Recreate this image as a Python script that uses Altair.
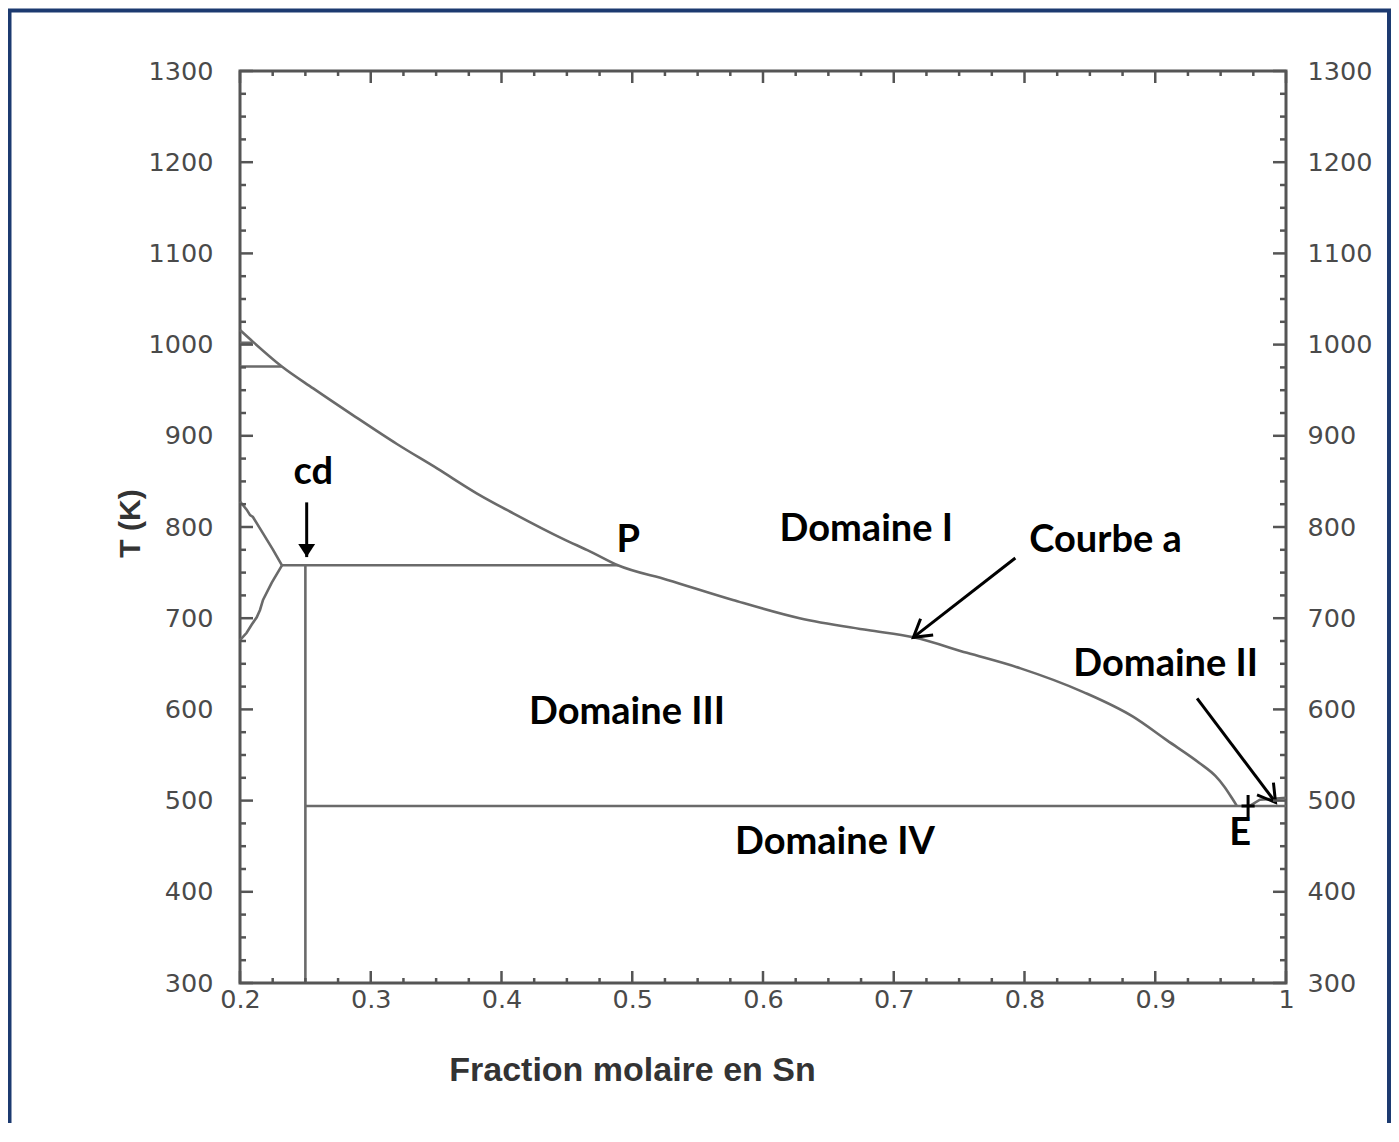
import math
import altair as alt
import pandas as pd

# ---------------- data ----------------
# Main liquidus ("Courbe a")
liq_x = [0.2, 0.210, 0.232, 0.256, 0.286, 0.320, 0.351, 0.381, 0.409, 0.447, 0.468,
         0.489, 0.527, 0.577, 0.628, 0.680, 0.715, 0.756, 0.797, 0.845, 0.883,
         0.909, 0.934, 0.946, 0.953, 0.959, 0.9625]
liq_T = [1016, 1003, 976, 952, 923, 891, 864, 837, 815, 787, 773,
         758, 742, 720, 700, 687, 679, 662, 645, 619, 592,
         566, 541, 527, 515, 502, 494]
# small wedge at the top left
wedge_x = [0.2, 0.2095]
wedge_T = [1002, 1002]
h975_x = [0.2, 0.232]
h975_T = [976, 976]
# left branches meeting at the congruent point
upl_x = [0.2, 0.2051, 0.2077, 0.2099, 0.2176, 0.2253, 0.2321]
upl_T = [828, 819, 813, 811, 793, 775, 758]
lol_x = [0.2321, 0.2243, 0.2176, 0.2153, 0.2128, 0.2090, 0.2051, 0.2]
lol_T = [758, 739, 720, 709, 701, 693, 684, 676]
# peritectic horizontal, compound vertical, eutectic horizontal, Sn side
per_x = [0.2321, 0.489]
per_T = [758, 758]
cd_x = [0.25, 0.25]
cd_T = [300, 758]
eut_x = [0.25, 1.0]
eut_T = [494, 494]
sn_x = [0.972, 0.98, 1.0]
sn_T = [494, 501, 503]

# eutectic marker
e_x = [0.971]
e_T = [494]

# annotation texts
lab_text = ["cd", "P", "Domaine I", "Courbe a", "Domaine II", "Domaine III", "Domaine IV", "E"]
lab_x = [0.256, 0.497, 0.679, 0.862, 0.908, 0.496, 0.655, 0.965]
lab_T = [859, 785, 797, 785, 649, 596, 454, 463]

# arrows (tail -> head)
arr_name = ["courbe", "domaine2"]
arr_x1 = [0.793, 0.932]
arr_T1 = [766, 612]
arr_x2 = [0.715, 0.992]
arr_T2 = [679, 498]
cd_arrow_x = [0.251]
cd_arrow_T1 = [827]
cd_arrow_T2 = [767]

# axes ticks
x_major = [0.2, 0.3, 0.4, 0.5, 0.6, 0.7, 0.8, 0.9, 1.0]
y_major = [300, 400, 500, 600, 700, 800, 900, 1000, 1100, 1200, 1300]
x_minor = [round(m + k * 0.025, 3) for m in x_major[:-1] for k in (1, 2, 3)]
y_minor = [m + k * 25 for m in y_major[:-1] for k in (1, 2, 3)]

# ---------------- build tables ----------------
segs = [("wedge", wedge_x, wedge_T), ("h975", h975_x, h975_T),
        ("upl", upl_x, upl_T), ("lol", lol_x, lol_T), ("per", per_x, per_T),
        ("cd", cd_x, cd_T), ("eut", eut_x, eut_T), ("sn", sn_x, sn_T)]
rows = []
for name, xs, ts in segs:
    for i, (xv, tv) in enumerate(zip(xs, ts)):
        rows.append({"seg": name, "i": i, "x": xv, "T": tv})
curves = pd.DataFrame(rows)
liq = pd.DataFrame({"x": liq_x, "T": liq_T, "i": list(range(len(liq_x)))})

W, H = 1046, 912
XPX = W / 0.8
YPX = H / 1000.0

arrows = pd.DataFrame({"name": arr_name, "x": arr_x1, "T": arr_T1, "x2": arr_x2, "T2": arr_T2})
arrows["angle"] = [
    (math.degrees(math.atan2((b - a) * XPX, (d - c) * YPX)) + 360) % 360
    for a, b, c, d in zip(arr_x1, arr_x2, arr_T1, arr_T2)
]
cdarrow = pd.DataFrame({"x": cd_arrow_x, "T": cd_arrow_T1, "T2": cd_arrow_T2})
labels = pd.DataFrame({"text": lab_text, "x": lab_x, "T": lab_T})
emark = pd.DataFrame({"x": e_x, "T": e_T})
xmaj = pd.DataFrame({"x": x_major})
xmin = pd.DataFrame({"x": x_minor})
ymaj = pd.DataFrame({"T": y_major})
ymin = pd.DataFrame({"T": y_minor})
one = pd.DataFrame({"x": [0.6], "T": [800]})

xsc = alt.Scale(domain=[0.2, 1.0], nice=False, zero=False)
ysc = alt.Scale(domain=[300, 1300], nice=False, zero=False)

LINE = "#6a6a6a"
AX = "#555555"
LABC = "#4a4a4a"
LABFS = 25.5

X = lambda f: alt.X(f, scale=xsc)
Y = lambda f: alt.Y(f, scale=ysc)

frame = alt.Chart(one).mark_rect(fillOpacity=0, stroke="#1c3a70", strokeWidth=4).encode(
    x=alt.value(-230.5), x2=alt.value(1149), y=alt.value(-60.5), y2=alt.value(1100)
)

# base layer carrying the axes (left y and bottom x)
liq_line = alt.Chart(liq).mark_line(color=LINE, strokeWidth=2.6, interpolate="monotone").encode(
    x=alt.X("x:Q", scale=xsc, axis=alt.Axis(
        values=x_major, format="~g", ticks=False, tickSize=0, domain=False, grid=False,
        labelFlush=False, labelPadding=4, labelFont="DejaVu Sans", labelFontSize=LABFS,
        labelColor=LABC,
        title="Fraction molaire en Sn", titleFont="Liberation Sans", titleFontSize=34,
        titleFontWeight="bold", titleColor="#333333", titleX=392, titleY=87,
        titleBaseline="middle")),
    y=alt.Y("T:Q", scale=ysc, axis=alt.Axis(
        values=y_major, format="d", ticks=False, tickSize=0, domain=False, grid=False,
        labelFlush=False, labelPadding=27, labelFont="DejaVu Sans", labelFontSize=LABFS,
        labelColor=LABC,
        title="T (K)", titleFont="Liberation Sans", titleFontSize=30,
        titleFontWeight="bold", titleColor="#333333", titleX=-110, titleY=452,
        titleAngle=270, titleBaseline="middle")),
    order="i:Q",
)

lines = alt.Chart(curves).mark_line(color=LINE, strokeWidth=2.6).encode(
    x=X("x:Q"), y=Y("T:Q"), detail="seg:N", order="i:Q")

tick_style = dict(color=AX, strokeWidth=2.5)
lt_maj = alt.Chart(ymaj).mark_rule(**tick_style).encode(y=Y("T:Q"), x=alt.value(0), x2=alt.value(13))
lt_min = alt.Chart(ymin).mark_rule(**tick_style).encode(y=Y("T:Q"), x=alt.value(0), x2=alt.value(6))
rt_min = alt.Chart(ymin).mark_rule(**tick_style).encode(y=Y("T:Q"), x=alt.value(W - 6), x2=alt.value(W))
bt_maj = alt.Chart(xmaj).mark_rule(**tick_style).encode(x=X("x:Q"), y=alt.value(H - 12), y2=alt.value(H))
bt_min = alt.Chart(xmin).mark_rule(**tick_style).encode(x=X("x:Q"), y=alt.value(H - 5), y2=alt.value(H))
tp_maj = alt.Chart(xmaj).mark_rule(**tick_style).encode(x=X("x:Q"), y=alt.value(0), y2=alt.value(12))
tp_min = alt.Chart(xmin).mark_rule(**tick_style).encode(x=X("x:Q"), y=alt.value(0), y2=alt.value(5))

arrow_lines = alt.Chart(arrows).mark_rule(color="black", strokeWidth=3).encode(
    x=X("x:Q"), y=Y("T:Q"), x2="x2:Q", y2="T2:Q")
arrow_heads = alt.Chart(arrows).mark_point(
    shape="M -0.6 1 L 0 0 L 0.6 1", filled=False, stroke="black", strokeWidth=3,
    size=1170, opacity=1, strokeJoin="miter").encode(
    x=X("x2:Q"), y=Y("T2:Q"), angle=alt.Angle("angle:Q", scale=None))
cd_line = alt.Chart(cdarrow).mark_rule(color="black", strokeWidth=3).encode(
    x=X("x:Q"), y=Y("T:Q"), y2="T2:Q")
cd_head = alt.Chart(cdarrow).mark_point(
    shape="M -0.65 -1 L 0.65 -1 L 0 0 Z", filled=True, fill="black", strokeWidth=0,
    size=676, opacity=1).encode(x=X("x:Q"), y=Y("T2:Q"))
e_cross = alt.Chart(emark).mark_point(
    shape="M 0 -1 L 0 1 M -0.6 0 L 0.6 0", filled=False, stroke="black", strokeWidth=3,
    size=480, opacity=1).encode(x=X("x:Q"), y=Y("T:Q"))

texts = alt.Chart(labels).mark_text(
    font="Lato", fontWeight="bold", fontSize=38, color="black", align="center",
    baseline="middle").encode(x=X("x:Q"), y=Y("T:Q"), text="text:N")

main = alt.layer(liq_line, frame, lines, lt_maj, lt_min, rt_min, bt_maj, bt_min, tp_maj, tp_min,
                 arrow_lines, arrow_heads, cd_line, cd_head, e_cross, texts)

right = alt.Chart(ymaj).mark_rule(**tick_style).encode(
    y=alt.Y("T:Q", scale=ysc, axis=alt.Axis(
        orient="right", values=y_major, format="d", ticks=False, tickSize=0, domain=False,
        grid=False, labelFlush=False, labelPadding=21, labelFont="DejaVu Sans",
        labelFontSize=LABFS, labelColor=LABC, title=None)),
    x=alt.value(W - 13), x2=alt.value(W))

chart = alt.layer(main, right).resolve_scale(y="independent").properties(
    width=W, height=H,
    autosize=alt.AutoSizeParams(type="none"),
    padding={"left": 232, "top": 63, "right": 105, "bottom": 140},
    background="white",
).configure_view(stroke=AX, strokeWidth=3)

chart.save("out.html", embed_options={"renderer": "svg", "actions": False})
